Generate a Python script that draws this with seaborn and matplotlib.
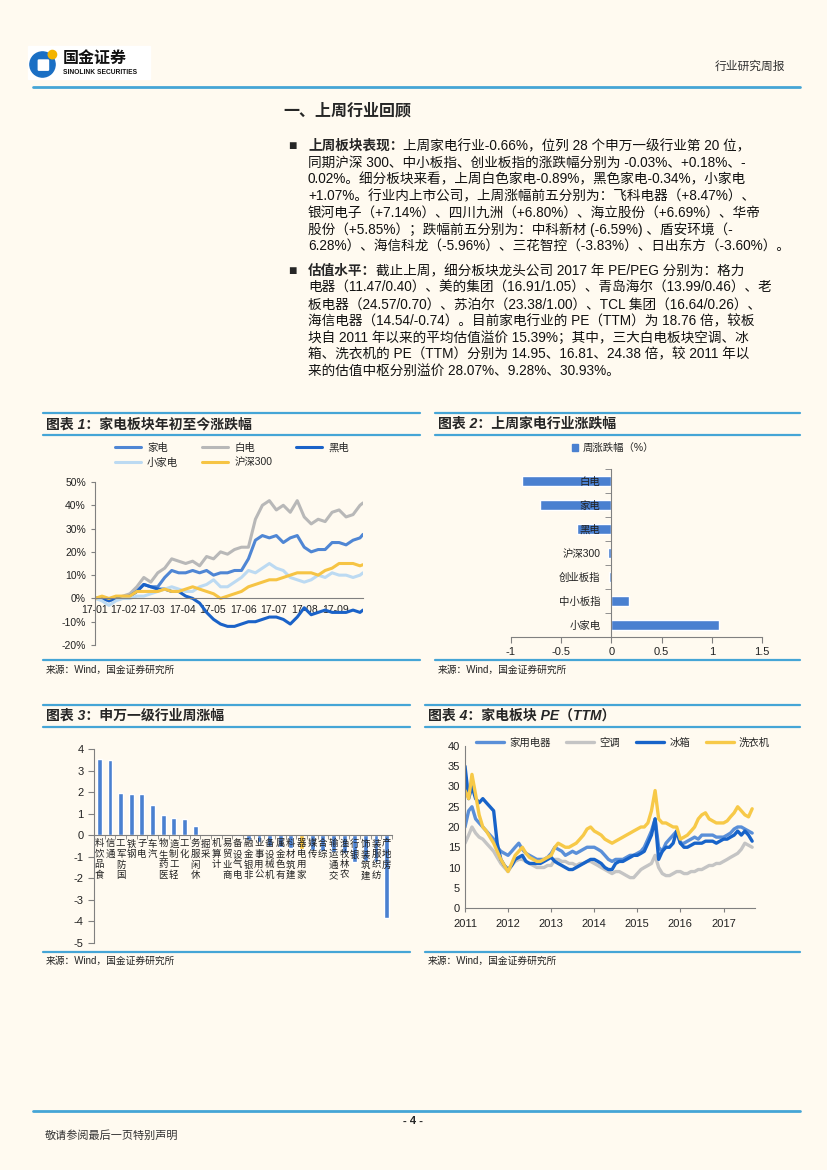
import pandas as pd
import matplotlib
matplotlib.use('Agg')
import matplotlib.pyplot as plt
import matplotlib.dates as mdates
from matplotlib.patches import Patch, Rectangle, Circle, FancyBboxPatch
from matplotlib.lines import Line2D
import seaborn as sns

# ---------------- data ----------------
# chart 1: YTD change (%), weekly readings 2017-01-03 .. 2017-09-29
dates1 = list(pd.date_range('2017-01-03', '2017-09-26', freq='7D')) + [pd.Timestamp('2017-09-29')]
jiadian = [0, 0.5, -1, 0, 0.5, 1, 3, 6, 5, 5, 9, 12, 11, 11, 12, 11, 12, 10, 11, 11,
           12, 12, 17, 25, 27, 26, 27, 24, 26, 27, 22, 20, 21, 21, 24, 24, 23, 25, 26, 27.5]
baidian = [0, 0, -1, 0, 1, 2, 5, 9, 7, 11, 13, 17, 16, 15, 16, 14, 18, 17, 20, 19,
           21, 22, 22, 34, 40, 42, 38, 40, 37, 42, 35, 32, 34, 33, 37, 38, 35, 36, 40, 41]
heidian = [0, 0, -1, 0, 0.5, 1, 3, 6, 5, 4, 4, 3, 3, 1, 0, -2, -6, -9, -11, -12,
           -12, -11, -10, -10, -9, -8, -8, -9, -11, -8, -4, -7, -6, -5, -6, -6, -6, -5, -6, -5]
xiaojiadian = [0, -1, -3, -1, 0, 0, 1, 1, 2, 3, 4, 5, 4, 3, 3, 5, 6, 8, 5, 5,
               7, 9, 12, 11, 13, 15, 13, 12, 9, 8, 7, 8, 10, 9, 11, 10, 10, 9, 10, 11]
hs300 = [0, 1, 0, 1, 1, 1, 3, 3, 3, 3, 4, 3, 3, 4, 5, 4, 3, 2, 0, 1,
         2, 3, 5, 6, 7, 8, 8, 9, 10, 11, 11, 11, 10, 12, 13, 15, 15, 15, 14, 14.5]
month_ticks1 = ['2017-01-03', '2017-02-01', '2017-03-01', '2017-04-01', '2017-05-01',
                '2017-06-01', '2017-07-01', '2017-08-01', '2017-09-01']
month_labels1 = ['17-01', '17-02', '17-03', '17-04', '17-05', '17-06', '17-07', '17-08', '17-09']

# chart 2: last week change (%)
cats2 = ['白电', '家电', '黑电', '沪深300', '创业板指', '中小板指', '小家电']
vals2 = [-0.89, -0.71, -0.34, -0.03, -0.02, 0.18, 1.07]

# chart 3: SW level-1 industries weekly change (%)
inds3 = ['食品饮料', '通信', '国防军工', '钢铁', '电子', '汽车', '医药生物', '轻工制造',
         '化工', '休闲服务', '采掘', '计算机', '商业贸易', '电气设备', '非银金融', '公用事业',
         '机械设备', '有色金属', '建筑材料', '家用电器', '传媒', '综合', '交通运输', '农林牧渔',
         '银行', '建筑装饰', '纺织服装', '房地产']
vals3 = [3.52, 3.47, 1.97, 1.91, 1.89, 1.40, 0.96, 0.81, 0.75, 0.43, 0.03, 0.01, -0.01, -0.02,
         -0.23, -0.31, -0.50, -0.55, -0.58, -0.66, -0.68, -0.72, -0.80, -0.84, -1.24, -1.20,
         -1.22, -3.86]

# chart 4: PE (TTM), monthly readings 2011-01 .. 2017-09
dates4 = pd.date_range('2011-01-01', '2017-09-01', freq='MS')
pe_jydq = [20, 24, 25, 22, 21, 20, 19, 18, 17, 15, 14, 13.5,
           13, 14, 15, 16, 14.5, 13.5, 13, 12.5, 12, 12, 12, 12.5,
           13.5, 15, 14.5, 14, 13, 13.5, 14, 13.5, 14, 14.5, 15, 15,
           15, 14.5, 14, 13, 12, 11.5, 12, 12, 12, 12.5, 13, 13,
           13.5, 14, 15, 17, 19, 22, 15, 14, 16, 17, 18, 19,
           16, 16, 16.5, 17, 17.5, 17, 18, 18, 18, 18, 17.5, 17.5,
           17.5, 18, 18.5, 19.5, 20, 20, 19.5, 19, 18.5]
pe_kt = [16, 18, 20, 18.5, 17.5, 17, 16, 15, 14, 12.5, 11, 10,
         9, 10.5, 11.5, 12, 12, 11.5, 11, 10.5, 10, 10, 10, 10.5,
         10.5, 12, 12, 11.5, 11.5, 11, 11, 10.5, 11, 11, 11.5, 11.5,
         11, 10.5, 10, 9.5, 9, 8.5, 9, 9, 8.5, 8, 7.5, 7.5,
         8.5, 9.5, 10, 10.5, 11, 13, 10, 8.5, 8, 8, 8.5, 9,
         9, 8.5, 8.5, 9, 9, 9.5, 9.5, 10, 10.5, 10.5, 11, 11,
         11.5, 12, 12.5, 13, 13.5, 14.5, 16, 15.5, 15]
pe_bx = [35, 27, 30, 27, 26, 27, 26, 25, 24, 16, 12, 10.5,
         9.5, 10.5, 12, 12.5, 13, 11.5, 11, 11, 11, 11, 11.5, 12,
         12.5, 11.5, 11, 10.5, 10, 9.5, 9.5, 10, 10.5, 11, 11.5, 12,
         12, 11.5, 11, 10, 9.5, 9.5, 11, 11.5, 11.5, 12, 12.5, 13,
         13, 13.5, 14, 16, 18, 22, 12, 14, 15, 15, 16, 19,
         16, 15, 15, 15.5, 16, 16, 16, 16.5, 16.5, 16.5, 16, 16.5,
         17, 17, 17.5, 18, 19, 18, 19, 18, 16.5]
pe_xyj = [29, 27, 33, 28, 23, 20, 19, 17.5, 16, 14, 12, 10.5,
          9, 11, 13, 14, 15, 13.5, 12.5, 12, 11.5, 11.5, 12, 12.5,
          13, 15, 16, 15.5, 15, 15, 15.5, 16, 17, 18, 19.5, 20,
          19, 18.5, 18, 17, 16.5, 16, 16.5, 17, 17.5, 18, 18.5, 19,
          19.5, 20, 20, 21, 24, 29, 22, 21, 21, 20.5, 20, 20,
          17, 17.5, 18, 19, 20, 22, 23, 23.5, 22, 21.5, 21, 21,
          21, 21.5, 22.5, 23.5, 25, 24, 23, 22.5, 24.5]

para1_lead = '上周板块表现：'
para1 = ['上周家电行业-0.66%，位列 28 个申万一级行业第 20 位，',
         '同期沪深 300、中小板指、创业板指的涨跌幅分别为 -0.03%、+0.18%、-',
         '0.02%。细分板块来看，上周白色家电-0.89%，黑色家电-0.34%，小家电',
         '+1.07%。行业内上市公司，上周涨幅前五分别为：飞科电器（+8.47%）、',
         '银河电子（+7.14%）、四川九洲（+6.80%）、海立股份（+6.69%）、华帝',
         '股份（+5.85%）；跌幅前五分别为：中科新材 (-6.59%) 、盾安环境（-',
         '6.28%）、海信科龙（-5.96%）、三花智控（-3.83%）、日出东方（-3.60%）。']
para2_lead = '估值水平：'
para2 = ['截止上周，细分板块龙头公司 2017 年 PE/PEG 分别为：格力',
         '电器（11.47/0.40）、美的集团（16.91/1.05）、青岛海尔（13.99/0.46）、老',
         '板电器（24.57/0.70）、苏泊尔（23.38/1.00）、TCL 集团（16.64/0.26）、',
         '海信电器（14.54/-0.74）。目前家电行业的 PE（TTM）为 18.76 倍，较板',
         '块自 2011 年以来的平均估值溢价 15.39%；其中，三大白电板块空调、冰',
         '箱、洗衣机的 PE（TTM）分别为 14.95、16.81、24.38 倍，较 2011 年以',
         '来的估值中枢分别溢价 28.07%、9.28%、30.93%。']

# ---------------- style ----------------
W, H = 827, 1170
BG = '#fffaf0'
RULE = '#45a5d6'
AXC = '#808080'
BAR = '#4a80d0'
YEL = '#f6c23e'

sns.set_style('ticks')
plt.rcParams['font.family'] = ['Liberation Sans', 'Noto Sans CJK SC', 'DejaVu Sans']
plt.rcParams['axes.unicode_minus'] = False
plt.rcParams['axes.edgecolor'] = AXC
plt.rcParams['xtick.color'] = AXC
plt.rcParams['ytick.color'] = AXC
plt.rcParams['xtick.labelcolor'] = '#222222'
plt.rcParams['ytick.labelcolor'] = '#222222'

fig = plt.figure(figsize=(W / 100, H / 100), dpi=100, facecolor=BG)


def fx(x):
    return x / W


def fy(y):
    return 1 - y / H


def rect(l, t, r, b):
    return [l / W, 1 - b / H, (r - l) / W, (b - t) / H]


def hline(x0, x1, y, lw=1.6, c=RULE):
    fig.add_artist(Line2D([fx(x0), fx(x1)], [fy(y), fy(y)], lw=lw, color=c,
                          transform=fig.transFigure))


def put(x, y, s, **kw):
    kw.setdefault('va', 'center')
    return fig.text(fx(x), fy(y), s, **kw)


# ---------------- header ----------------
fig.add_artist(Rectangle((fx(28), fy(79)), 122 / W, 33 / H, transform=fig.transFigure,
                         color='white', zorder=0))
lax = fig.add_axes(rect(29, 48, 59, 78))
lax.set_xlim(0, 1)
lax.set_ylim(0, 1)
lax.set_aspect('equal')
lax.axis('off')
lax.add_patch(Circle((0.45, 0.45), 0.42, color='#1a6fc4'))
lax.add_patch(FancyBboxPatch((0.33, 0.28), 0.3, 0.3, boxstyle='round,pad=0.02', color='white'))
lax.add_patch(Circle((0.78, 0.78), 0.14, color='#f4b400'))
put(63, 58, '国金证券', fontsize=11.5, weight='bold', color='#111111')
put(63, 72, 'SINOLINK SECURITIES', fontsize=4.8, weight='bold', color='#111111')
put(785, 67, '行业研究周报', fontsize=8.5, ha='right', color='#333333')
hline(33, 800, 87, lw=2)

# ---------------- body text ----------------
put(283, 111, '一、上周行业回顾', fontsize=11.5, weight='bold')
renderer = fig.canvas.get_renderer()
BODY = 9.8
for lead, lines, y0 in [(para1_lead, para1, 146), (para2_lead, para2, 271)]:
    put(292, y0, '■', fontsize=10, ha='center')
    t = put(308, y0, lead, fontsize=BODY, weight='bold')
    x_after = t.get_window_extent(renderer).x1
    for i, s in enumerate(lines):
        y = y0 + 16.75 * i
        put(x_after if i == 0 else 308, y, s, fontsize=BODY, color='#111111')

# ---------------- chart frames ----------------
frames = [(43, 420, 413, 435, 660, 670, '图表 1：家电板块年初至今涨跌幅'),
          (435, 800, 413, 435, 660, 670, '图表 2：上周家电行业涨跌幅'),
          (43, 410, 705, 727, 952, 961, '图表 3：申万一级行业周涨幅'),
          (425, 800, 705, 727, 952, 961, '图表 4：家电板块 PE（TTM）')]
for x0, x1, yt, yb, ys, yst, title in frames:
    hline(x0, x1, yt)
    hline(x0, x1, yb)
    hline(x0, x1, ys)
    put(x0 + 3, (yt + yb) / 2, title, fontsize=10, weight='bold', style='italic')
    put(x0 + 3, yst, '来源：Wind，国金证券研究所', fontsize=7, color='#222222')

# ---------------- chart 1 ----------------
ax1 = fig.add_axes(rect(95, 482, 363, 645))
ax1.set_facecolor('none')
series1 = [('家电', jiadian, '#4f86d4'), ('白电', baidian, '#b8b8b8'), ('黑电', heidian, '#1a62c8'),
           ('小家电', xiaojiadian, '#bcdaf2'), ('沪深300', hs300, '#f6c444')]
h1 = {}
for name, vals, col in series1:
    sns.lineplot(x=dates1, y=vals, ax=ax1, color=col, lw=2.2, label=name, legend=False)
    h1[name] = ax1.lines[-1]
ax1.set_ylim(-20, 50)
ax1.set_yticks(range(-20, 51, 10))
ax1.yaxis.set_major_formatter(lambda v, p: f'{v:.0f}%')
ax1.set_xlim(pd.Timestamp('2017-01-03'), pd.Timestamp('2017-09-29'))
ax1.set_xticks([pd.Timestamp(d) for d in month_ticks1])
ax1.set_xticklabels(month_labels1)
ax1.spines[['top', 'right']].set_visible(False)
ax1.spines['bottom'].set_position(('data', 0))
ax1.tick_params(axis='x', length=0, pad=5, labelsize=7.5)
ax1.tick_params(axis='y', length=3, labelsize=7.5)
ax1.set_xlabel('')
ax1.set_ylabel('')
ax1.legend(handles=[h1['家电'], h1['小家电'], h1['白电'], h1['沪深300'], h1['黑电']],
           ncol=3, loc='center', bbox_to_anchor=(fx(232), fy(455)),
           bbox_transform=fig.transFigure, frameon=False, fontsize=7.5,
           handlelength=2.5, columnspacing=2.3, handletextpad=0.6, labelspacing=0.45)

# ---------------- chart 2 ----------------
ax2 = fig.add_axes(rect(511, 469, 762, 637))
ax2.set_facecolor('none')
sns.barplot(x=vals2, y=cats2, orient='h', color=BAR, width=0.42, ax=ax2, saturation=1)
ax2.set_axisbelow(False)
ax2.set_xlim(-1, 1.5)
ax2.set_ylim(6.5, -0.5)
ax2.set_xticks([-1, -0.5, 0, 0.5, 1, 1.5])
ax2.set_xticklabels(['-1', '-0.5', '0', '0.5', '1', '1.5'])
ax2.set_yticks(range(7))
ax2.set_yticklabels(cats2)
ax2.set_yticks([i - 0.5 for i in range(8)], minor=True)
ax2.spines[['top', 'right']].set_visible(False)
ax2.spines['left'].set_position(('data', 0))
ax2.tick_params(axis='y', which='major', length=0, pad=8, labelsize=7.5)
ax2.tick_params(axis='y', which='minor', length=4, direction='out')
ax2.tick_params(axis='x', length=4, direction='out', labelsize=8)
ax2.set_xlabel('')
ax2.set_ylabel('')
ax2.legend(handles=[Patch(color=BAR, label='周涨跌幅（%）')], loc='center',
           bbox_to_anchor=(fx(613), fy(448)), bbox_transform=fig.transFigure,
           frameon=False, fontsize=7.5, handlelength=0.6, handleheight=0.6, handletextpad=0.4)

# ---------------- chart 3 ----------------
ax3 = fig.add_axes(rect(94, 749, 392, 943))
ax3.set_facecolor('none')
pal3 = {n: (YEL if n == '家用电器' else BAR) for n in inds3}
sns.barplot(x=inds3, y=vals3, hue=inds3, palette=pal3, legend=False, width=0.45,
            saturation=1, ax=ax3)
ax3.set_axisbelow(False)
ax3.set_xlim(-0.5, 27.5)
ax3.set_ylim(-5, 4)
ax3.set_yticks(range(-5, 5))
ax3.set_xticks(range(len(inds3)))
ax3.set_xticklabels(['\n'.join(reversed(n)) for n in inds3], linespacing=1.0)
ax3.set_xticks([i - 0.5 for i in range(len(inds3) + 1)], minor=True)
ax3.spines[['top', 'right']].set_visible(False)
ax3.spines['bottom'].set_position(('data', 0))
ax3.tick_params(axis='x', which='major', length=0, pad=3, labelsize=6.8)
ax3.tick_params(axis='x', which='minor', length=3, direction='out')
ax3.tick_params(axis='y', length=4, direction='out', labelsize=8)
ax3.set_xlabel('')
ax3.set_ylabel('')

# ---------------- chart 4 ----------------
ax4 = fig.add_axes(rect(465, 746, 755, 908))
ax4.set_facecolor('none')
series4 = [('家用电器', pe_jydq, '#5a8fd8'), ('空调', pe_kt, '#c4c4c4'),
           ('冰箱', pe_bx, '#1763c9'), ('洗衣机', pe_xyj, '#f7c948')]
h4 = []
for name, vals, col in series4:
    sns.lineplot(x=dates4, y=vals, ax=ax4, color=col, lw=2.4, label=name, legend=False)
    h4.append(ax4.lines[-1])
ax4.set_ylim(0, 40)
ax4.set_yticks(range(0, 41, 5))
ax4.set_xlim(pd.Timestamp('2011-01-01'), pd.Timestamp('2017-09-25'))
ax4.xaxis.set_major_locator(mdates.YearLocator())
ax4.xaxis.set_major_formatter(mdates.DateFormatter('%Y'))
ax4.spines[['top', 'right']].set_visible(False)
ax4.tick_params(axis='x', length=3, direction='out', pad=5, labelsize=8)
ax4.tick_params(axis='y', length=0, labelsize=8)
ax4.set_xlabel('')
ax4.set_ylabel('')
ax4.legend(handles=h4, ncol=4, loc='center', bbox_to_anchor=(fx(623), fy(743)),
           bbox_transform=fig.transFigure, frameon=False, fontsize=7.5,
           handlelength=2.7, columnspacing=1.5, handletextpad=0.5)

# ---------------- footer ----------------
hline(33, 800, 1111, lw=2)
put(413, 1121, '- 4 -', fontsize=8, weight='bold', ha='center')
put(45, 1136, '敬请参阅最后一页特别声明', fontsize=8, color='#333333')

fig.savefig('out.png', dpi=100, facecolor=BG)
